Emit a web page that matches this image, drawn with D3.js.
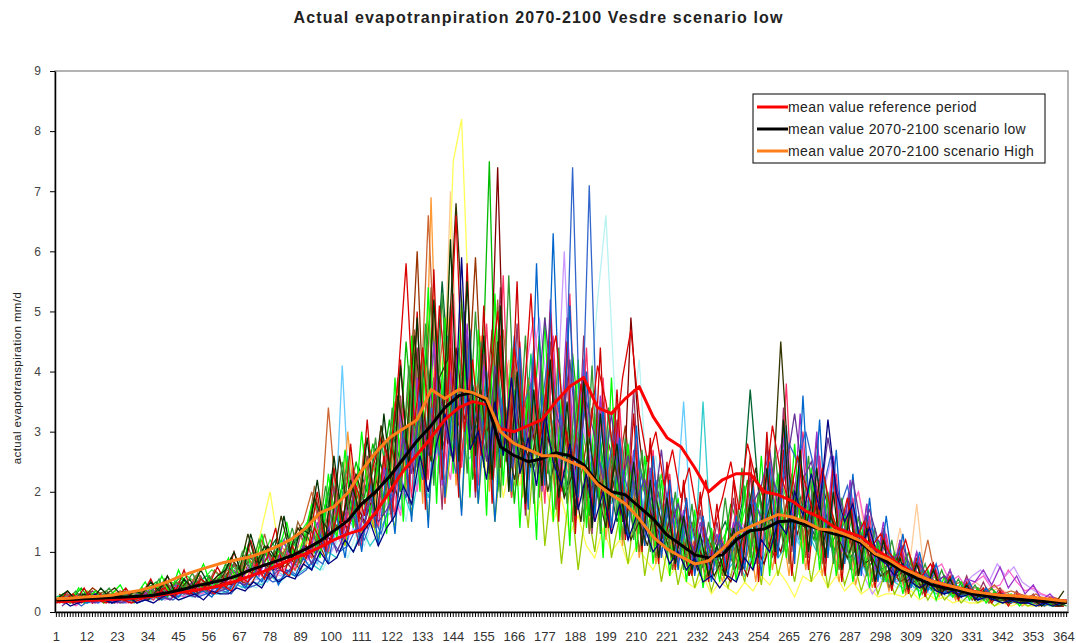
<!DOCTYPE html>
<html>
<head>
<meta charset="utf-8">
<script src="https://cdn.jsdelivr.net/npm/d3@7"></script>
<style>
  body { margin: 0; background: #fff; }
  svg { display: block; font-family: "Liberation Sans", Arial, sans-serif; }
</style>
</head>
<body>
<div id="chart"></div>
<script>
const chartTitle = "Actual evapotranpiration 2070-2100 Vesdre scenario low";
const yTitle = "actual evapotranspiration mm/d";

// category axis: day of year
const dayCategories = d3.range(1, 366);
const xTickLabels = [1,12,23,34,45,56,67,78,89,100,111,122,133,144,155,166,177,188,199,210,
  221,232,243,254,265,276,287,298,309,320,331,342,353,364];
const yTicks = [0,1,2,3,4,5,6,7,8,9];

// mean curves (read every 5 days)
const meanDays = [1,6,11,16,21,26,31,36,41,46,51,56,61,66,71,76,81,86,91,96,
  101,106,111,116,121,126,131,136,141,146,151,156,161,166,171,176,181,186,191,196,
  201,206,211,216,221,226,231,236,241,246,251,256,261,266,271,276,281,286,291,296,
  301,306,311,316,321,326,331,336,341,346,351,356,361,365];
const meanReference = [0.17,0.18,0.19,0.2,0.21,0.22,0.24,0.26,0.3,0.33,
  0.36,0.4,0.45,0.52,0.6,0.68,0.78,0.88,0.97,1.08,
  1.2,1.3,1.37,1.65,2.0,2.35,2.62,2.9,3.2,3.4,
  3.5,3.45,3.05,3.0,3.1,3.2,3.5,3.75,3.9,3.4,
  3.3,3.55,3.75,3.25,2.9,2.75,2.4,2.0,2.2,2.3,
  2.3,2.0,1.95,1.85,1.68,1.58,1.42,1.33,1.25,1.05,
  0.9,0.75,0.62,0.52,0.45,0.4,0.35,0.3,0.28,0.25,
  0.22,0.2,0.2,0.18];
const meanLow = [0.2,0.21,0.22,0.23,0.24,0.25,0.26,0.28,0.32,0.37,
  0.43,0.48,0.53,0.6,0.7,0.78,0.86,0.94,1.05,1.18,
  1.35,1.52,1.8,2.0,2.25,2.55,2.85,3.1,3.4,3.6,
  3.65,3.5,2.75,2.6,2.5,2.55,2.65,2.6,2.45,2.15,
  2.0,1.95,1.75,1.55,1.28,1.12,0.95,0.9,0.95,1.2,
  1.35,1.38,1.5,1.52,1.45,1.38,1.3,1.25,1.15,0.95,
  0.82,0.68,0.56,0.46,0.4,0.36,0.3,0.27,0.24,0.22,
  0.2,0.18,0.17,0.16];
const meanHigh = [0.22,0.23,0.25,0.26,0.28,0.32,0.36,0.42,0.5,0.6,
  0.68,0.75,0.82,0.87,0.92,1.0,1.1,1.22,1.4,1.65,
  1.75,1.98,2.35,2.65,2.9,3.05,3.2,3.7,3.55,3.7,
  3.65,3.55,3.0,2.8,2.7,2.6,2.6,2.5,2.4,2.12,
  1.95,1.8,1.55,1.25,1.05,0.92,0.8,0.85,1.05,1.3,
  1.42,1.52,1.62,1.58,1.5,1.38,1.36,1.28,1.18,0.97,
  0.87,0.72,0.62,0.52,0.46,0.4,0.34,0.31,0.28,0.27,
  0.25,0.23,0.2,0.18];

// individual years (estimated every 3 days; some years read one or two days later)
const runDays = [1,4,7,10,13,16,19,22,25,28,31,34,37,40,43,46,49,52,55,58,
  61,64,67,70,73,76,79,82,85,88,91,94,97,100,103,106,109,112,115,118,
  121,124,127,130,133,136,139,142,145,148,151,154,157,160,163,166,169,172,175,178,
  181,184,187,190,193,196,199,202,205,208,211,214,217,220,223,226,229,232,235,238,
  241,244,247,250,253,256,259,262,265,268,271,274,277,280,283,286,289,292,295,298,
  301,304,307,310,313,316,319,322,325,328,331,334,337,340,343,346,349,352,355,358,361,364];
const runDayShift = [0,1,2];

const run01 = [0.2,0.3,0.25,0.4,0.2,0.3,0.35,0.2,0.3,0.25, 0.3,0.4,0.5,0.3,0.45,0.6,0.4,0.5,0.35,0.55,
  0.5,0.7,0.6,0.9,0.7,1.1,0.8,0.9,1.2,0.8, 1.3,1.0,1.6,2.2,1.5,1.8,2.5,1.9,2.8,2.2,
  3.2,2.1,4.5,2.8,3.6,5.2,2.4,4.1,3.0,4.8, 2.2,3.1,7.5,2.0,4.2,1.8,3.5,2.6,4.6,2.3,
  3.4,1.9,4.3,2.8,1.6,3.2,2.1,2.7,1.5,2.4, 1.8,2.6,1.2,1.6,0.9,1.4,0.7,1.1,0.8,1.3,
  1.0,1.8,1.4,2.2,1.2,1.6,2.0,1.3,1.8,1.5, 1.6,1.2,1.9,1.1,1.4,0.9,1.2,0.8,1.0,0.7,
  0.8,0.6,0.9,0.5,0.6,0.4,0.5,0.4,0.35,0.3, 0.3,0.25,0.3,0.2,0.25,0.2,0.2,0.15,0.2,0.15,0.2,0.15];
const run02 = [0.15,0.2,0.3,0.15,0.25,0.2,0.15,0.3,0.2,0.15, 0.2,0.25,0.3,0.4,0.25,0.35,0.3,0.5,0.4,0.3,
  0.45,0.35,0.6,0.5,0.8,0.55,0.9,0.7,0.6,1.0, 0.9,1.4,1.1,1.2,1.8,1.3,2.1,1.6,2.4,2.9,
  2.5,3.8,5.8,3.1,4.4,2.6,5.1,3.5,6.6,3.0, 4.2,2.6,3.8,5.0,2.9,4.4,3.2,5.3,2.8,3.9,
  4.6,3.1,2.4,3.8,2.9,4.1,3.5,2.6,3.9,4.7, 3.3,2.5,3.0,2.1,2.7,1.9,2.4,1.6,2.2,1.4,
  1.9,2.5,1.7,2.8,2.2,1.9,3.1,2.3,1.8,2.6, 2.1,1.6,2.4,1.7,1.3,1.9,1.2,1.5,1.1,1.3,
  1.0,0.8,1.2,0.7,0.6,0.8,0.5,0.45,0.4,0.35, 0.3,0.35,0.25,0.3,0.2,0.25,0.2,0.2,0.15,0.2,0.15,0.15];
const run03 = [0.3,0.2,0.15,0.25,0.4,0.3,0.2,0.25,0.35,0.2, 0.25,0.35,0.2,0.3,0.4,0.3,0.45,0.35,0.6,0.4,
  0.4,0.6,0.5,0.45,0.7,0.6,1.0,0.75,0.85,0.7, 1.0,1.2,0.9,1.5,1.3,2.0,1.6,1.4,2.2,1.9,
  2.7,2.0,3.3,6.0,2.5,3.7,2.9,4.9,2.2,3.4, 5.9,3.0,4.7,2.4,3.6,2.1,3.0,4.1,2.5,3.3,
  2.2,3.0,1.8,2.5,3.4,1.9,2.8,2.2,3.1,1.7, 2.3,1.5,2.0,1.2,1.7,1.0,1.5,0.8,1.2,0.9,
  1.1,0.8,1.4,1.0,1.7,1.2,0.9,1.5,2.3,1.6, 1.3,1.8,1.0,1.5,0.8,1.2,0.9,0.7,1.1,0.6,
  0.7,0.5,0.6,0.8,0.45,0.5,0.35,0.4,0.3,0.35, 0.25,0.3,0.2,0.25,0.2,0.15,0.2,0.2,0.15,0.2,0.1,0.15];
const run04 = [0.2,0.15,0.2,0.3,0.25,0.2,0.3,0.4,0.25,0.2, 0.3,0.2,0.35,0.5,0.3,0.4,0.55,0.3,0.45,0.5,
  0.6,0.9,0.7,1.3,0.8,1.1,0.9,1.6,1.0,1.4, 1.2,1.9,1.5,1.3,2.6,1.7,2.3,1.8,2.0,3.1,
  2.4,3.6,2.8,4.6,3.2,2.5,3.9,4.2,6.8,4.3, 2.8,3.7,2.3,4.5,3.0,2.2,2.9,2.4,3.4,2.0,
  2.6,1.9,2.3,1.5,2.9,2.0,1.4,2.5,1.8,1.2, 1.5,1.1,1.9,1.3,0.9,1.6,1.2,0.7,1.0,0.6,
  0.9,1.3,1.0,1.6,2.4,1.4,1.9,4.5,2.3,1.5, 1.4,2.0,1.1,1.6,1.2,0.9,1.3,0.8,0.9,0.6,
  0.7,0.9,0.5,0.6,0.4,0.55,0.35,0.4,0.3,0.3, 0.35,0.25,0.3,0.2,0.2,0.25,0.15,0.2,0.15,0.2,0.15,0.35];
const run05 = [0.1,0.2,0.15,0.2,0.15,0.25,0.2,0.15,0.2,0.3, 0.2,0.3,0.25,0.2,0.35,0.3,0.25,0.4,0.3,0.35,
  0.4,0.5,0.45,0.6,0.9,0.55,0.7,0.65,0.8,1.1, 0.8,1.1,1.4,1.0,1.3,1.6,1.2,1.9,1.5,1.7,
  2.0,2.9,2.3,3.5,2.6,4.0,3.1,2.5,3.7,2.9, 3.4,2.5,4.1,3.0,2.4,3.6,2.7,3.2,4.9,3.5,
  3.0,4.2,2.6,3.5,2.9,2.2,3.3,2.0,2.6,1.9, 2.2,1.6,2.7,1.4,1.8,1.3,1.0,1.5,0.9,1.2,
  1.0,1.5,1.3,1.8,2.1,2.7,1.7,2.4,3.3,2.2, 2.5,1.8,2.9,2.1,1.6,2.2,1.4,1.7,1.2,1.0,
  0.9,1.1,0.7,0.8,0.6,0.5,0.6,0.4,0.35,0.4, 0.3,0.35,0.25,0.3,0.2,0.25,0.2,0.15,0.2,0.15,0.2,0.15];
const run06 = [0.15,0.25,0.2,0.1,0.2,0.15,0.25,0.2,0.15,0.2, 0.25,0.2,0.3,0.25,0.2,0.3,0.35,0.25,0.3,0.4,
  0.35,0.3,0.5,0.4,0.45,0.6,0.5,0.55,0.7,0.6, 0.7,0.9,0.8,1.2,1.0,1.1,1.4,1.2,1.6,1.3,
  1.8,2.4,1.9,2.9,2.2,3.4,2.6,3.0,2.3,3.6, 2.9,3.3,2.4,3.9,2.8,4.6,3.4,3.8,3.1,4.2,
  3.6,2.9,7.4,2.4,7.1,2.6,2.2,3.0,2.4,1.8, 2.5,1.7,2.2,1.4,1.9,1.1,1.6,1.0,1.3,0.8,
  1.1,0.9,1.5,1.2,1.8,1.4,2.2,1.9,2.8,2.5, 3.0,2.4,2.0,2.6,1.7,2.1,1.5,1.2,1.4,0.9,
  1.0,0.7,0.8,0.6,0.7,0.5,0.45,0.5,0.4,0.3, 0.35,0.3,0.25,0.3,0.2,0.25,0.2,0.2,0.15,0.2,0.15,0.2];
const run07 = [0.2,0.1,0.15,0.2,0.3,0.2,0.15,0.2,0.25,0.15, 0.2,0.15,0.25,0.3,0.2,0.25,0.3,0.2,0.35,0.3,
  0.3,0.4,0.35,0.5,0.4,0.65,0.5,0.6,0.55,0.8, 0.7,1.0,0.8,0.9,1.2,1.0,1.3,1.5,1.1,1.4,
  1.6,2.1,1.8,2.6,2.0,2.8,3.3,2.5,5.9,2.7, 3.0,2.2,3.5,2.6,3.9,2.3,2.9,2.1,3.3,2.5,
  2.1,2.8,1.7,2.3,1.5,2.0,1.3,1.8,1.2,1.6, 1.4,1.0,1.2,0.8,1.0,0.7,0.9,0.5,0.6,0.4,
  0.6,0.5,0.9,0.7,1.2,1.0,1.5,1.3,2.0,1.6, 2.3,1.7,3.2,2.0,1.5,1.8,1.1,1.4,0.9,0.8,
  0.6,0.8,0.5,0.4,0.5,0.35,0.3,0.35,0.25,0.3, 0.2,0.25,0.2,0.15,0.2,0.15,0.15,0.1,0.15,0.1,0.15,0.1];
const run08 = [0.25,0.3,0.2,0.25,0.2,0.3,0.25,0.35,0.2,0.3, 0.35,0.3,0.45,0.4,0.5,0.35,0.6,0.45,0.5,0.65,
  0.7,0.6,0.9,0.8,1.2,0.9,0.8,1.1,1.3,1.5, 2.0,1.4,3.4,1.8,1.6,2.4,1.9,2.7,2.1,2.6,
  3.5,2.8,4.3,3.2,6.6,3.6,4.9,3.0,4.0,3.4, 3.8,3.2,2.7,4.7,3.3,2.6,3.9,3.0,2.4,3.6,
  3.2,2.5,2.9,2.1,2.6,3.5,2.0,2.4,1.7,2.2, 2.0,1.4,1.8,1.1,1.5,0.9,1.2,0.8,1.0,0.7,
  0.9,1.1,0.8,1.3,1.0,1.5,1.2,1.8,1.4,2.0, 1.7,1.4,1.9,1.2,1.5,1.0,1.3,0.9,1.1,0.8,
  0.9,0.7,0.8,0.6,1.2,0.5,0.6,0.45,0.5,0.4, 0.4,0.35,0.45,0.3,0.35,0.3,0.25,0.3,0.2,0.25,0.2,0.2];
const run09 = [0.2,0.3,0.2,0.15,0.25,0.2,0.3,0.2,0.15,0.2, 0.25,0.2,0.3,0.25,0.35,0.3,0.25,0.3,0.35,0.3,
  0.4,0.5,0.4,0.6,0.55,0.5,0.7,0.6,0.75,0.9, 1.0,0.8,1.3,1.1,4.1,1.5,1.2,1.7,1.4,2.0,
  2.2,1.7,2.6,2.1,3.0,2.4,3.5,2.7,3.1,2.5, 2.7,3.4,2.2,2.9,2.4,3.2,2.0,2.6,3.8,2.8,
  3.5,2.7,3.1,2.4,2.8,2.2,3.0,2.5,1.9,2.3, 1.7,2.4,1.4,1.9,1.5,3.5,1.2,1.6,1.0,0.9,
  0.8,1.0,0.7,1.2,0.9,1.4,1.1,1.6,1.3,1.1, 1.4,1.1,1.6,0.9,1.2,0.8,1.0,0.6,0.7,0.5,
  0.6,0.5,0.4,0.5,0.35,0.4,0.3,0.35,0.3,0.25, 0.25,0.2,0.25,0.2,0.15,0.2,0.15,0.2,0.15,0.1,0.15,0.1];
const run10 = [0.15,0.2,0.25,0.2,0.15,0.2,0.2,0.25,0.2,0.15, 0.2,0.25,0.2,0.3,0.25,0.2,0.3,0.25,0.3,0.35,
  0.35,0.4,0.5,0.45,0.4,0.55,0.6,0.5,0.65,0.7, 0.8,0.9,0.7,1.0,1.2,0.9,1.3,1.1,1.5,1.2,
  1.7,2.2,1.5,2.5,1.9,2.8,2.3,3.2,2.6,3.9, 2.4,3.1,2.6,2.1,2.8,3.5,2.5,3.0,2.2,2.7,
  2.3,2.9,2.0,2.6,3.4,5.2,6.6,3.8,2.4,2.9, 4.2,2.0,2.6,1.5,1.8,1.1,1.4,0.9,1.1,0.8,
  0.7,0.9,0.6,1.0,0.8,1.2,0.9,1.3,1.0,1.2, 1.0,1.3,0.8,1.1,0.7,0.9,0.6,0.8,0.5,0.6,
  0.5,0.4,0.45,0.35,0.4,0.3,0.35,0.25,0.3,0.2, 0.2,0.25,0.2,0.15,0.2,0.15,0.1,0.15,0.1,0.15,0.1,0.1];
const run11 = [0.2,0.25,0.2,0.3,0.2,0.25,0.2,0.15,0.2,0.25, 0.3,0.25,0.35,0.3,0.4,0.3,0.35,0.45,0.4,0.5,
  0.55,0.7,0.6,0.8,1.4,2.0,1.1,0.9,1.0,1.2, 1.1,1.5,1.3,1.8,1.4,2.2,1.7,2.0,1.8,2.5,
  2.3,3.1,2.6,3.7,2.9,4.6,3.8,7.5,8.2,4.5, 3.4,2.3,3.0,1.9,2.6,2.1,2.9,1.6,2.2,1.5,
  1.9,1.3,1.6,1.1,0.9,1.4,1.0,1.2,0.8,1.1, 0.9,0.7,1.0,0.6,0.8,0.5,0.4,0.6,0.3,0.5,
  0.4,0.3,0.5,0.35,0.6,0.45,0.7,0.5,0.25,0.6, 0.5,0.7,0.4,0.6,0.35,0.5,0.3,0.4,0.25,0.3,
  0.3,0.25,0.35,0.2,0.3,0.2,0.25,0.15,0.2,0.15, 0.15,0.2,0.1,0.15,0.1,0.15,0.1,0.1,0.15,0.1,0.1,0.1];
const run12 = [0.15,0.2,0.1,0.2,0.15,0.2,0.25,0.2,0.15,0.2, 0.2,0.3,0.25,0.35,0.3,0.25,0.4,0.3,0.35,0.4,
  0.45,0.5,0.6,0.55,0.7,0.6,0.8,0.7,0.9,0.75, 0.9,1.2,1.0,1.4,1.1,1.6,1.3,1.9,1.5,1.8,
  2.1,1.6,2.7,2.0,3.2,2.4,2.9,2.2,3.6,2.8, 3.1,2.5,3.6,2.8,3.3,2.4,4.0,4.9,3.5,2.9,
  3.3,2.6,3.8,2.9,2.3,2.7,2.1,2.5,1.8,2.2, 1.6,2.0,1.3,1.7,1.1,1.4,0.9,1.2,0.8,1.0,
  1.2,0.9,1.5,1.1,1.9,1.5,2.5,2.9,1.8,2.3, 1.9,2.6,1.6,2.2,1.4,1.7,2.0,1.3,1.0,1.2,
  0.8,1.0,0.6,0.9,0.5,0.7,0.8,0.5,0.6,0.4, 0.5,0.6,0.4,0.45,0.7,0.5,0.35,0.4,0.3,0.25,0.2,0.2];
const run13 = [0.2,0.15,0.2,0.25,0.2,0.15,0.2,0.3,0.2,0.15, 0.2,0.25,0.3,0.2,0.25,0.35,0.3,0.25,0.3,0.35,
  0.4,0.35,0.5,0.45,0.55,0.5,0.65,0.6,0.7,0.8, 0.9,0.8,1.1,1.0,1.3,1.2,1.5,1.3,1.7,1.6,
  1.9,2.4,2.0,2.8,2.3,3.1,2.6,3.3,2.8,3.5, 3.2,2.7,3.6,2.9,3.4,2.6,3.1,3.9,4.9,3.7,
  3.1,6.0,2.7,3.4,2.5,3.0,2.3,2.7,2.1,2.5, 2.0,1.6,1.8,1.3,1.5,1.0,1.2,0.8,0.9,0.7,
  0.8,0.6,0.9,0.7,1.0,0.8,1.2,1.0,1.4,1.2, 1.6,1.3,1.9,2.5,1.5,1.2,0.9,0.6,0.3,0.5,
  0.6,0.5,0.7,0.4,0.5,0.4,0.35,0.5,0.4,0.45, 0.6,0.7,0.5,0.8,0.6,0.75,0.5,0.4,0.3,0.25,0.2,0.2];
const run14 = [0.25,0.2,0.3,0.2,0.25,0.3,0.2,0.25,0.3,0.25, 0.3,0.35,0.3,0.45,0.4,0.35,0.5,0.45,0.55,0.5,
  0.6,0.8,0.7,0.9,0.8,1.0,1.2,0.9,1.1,1.3, 1.4,1.2,1.8,1.5,2.1,1.7,2.4,2.0,2.7,2.3,
  3.0,2.5,3.7,2.9,4.3,3.3,5.5,3.6,3.1,4.1, 3.6,2.9,3.3,2.5,3.0,2.7,3.5,2.4,2.9,2.2,
  2.6,2.1,2.9,1.9,2.4,1.7,2.2,1.5,2.0,1.4, 1.7,1.2,1.5,1.0,1.3,0.8,1.1,0.7,0.9,1.2,
  1.5,1.1,1.8,3.7,2.0,1.4,1.7,1.2,1.5,1.9, 1.5,1.2,1.7,1.0,1.3,0.9,1.1,0.7,0.9,0.6,
  0.7,0.5,0.6,0.4,0.5,0.35,0.4,0.3,0.35,0.3, 0.25,0.3,0.2,0.25,0.2,0.2,0.15,0.2,0.15,0.15,0.1,0.15];
const run15 = [0.2,0.25,0.15,0.2,0.3,0.25,0.2,0.15,0.25,0.2, 0.25,0.2,0.3,0.35,0.25,0.4,0.3,0.35,0.45,0.4,
  0.5,0.45,0.55,0.7,0.6,0.8,0.7,0.75,0.9,1.0, 1.1,0.9,1.3,1.2,1.5,1.4,1.8,1.5,1.9,2.1,
  2.4,1.9,2.9,2.3,3.4,2.6,3.9,2.8,4.4,3.2, 3.7,2.8,3.1,7.4,2.5,3.6,2.7,3.2,2.3,2.9,
  2.5,3.2,2.2,2.8,1.9,2.4,1.6,2.2,1.5,4.9, 2.9,1.8,1.4,1.2,1.7,1.3,0.6,1.1,0.8,1.0,
  0.7,0.5,0.9,0.6,1.1,0.8,1.3,1.0,1.6,1.3, 1.8,1.4,2.1,1.6,1.2,1.5,1.0,1.2,0.8,0.9,
  0.8,0.6,0.7,0.5,0.6,0.45,0.4,0.35,0.3,0.35, 0.3,0.25,0.3,0.2,0.25,0.2,0.15,0.2,0.15,0.15,0.1,0.1];
const run16 = [0.2,0.15,0.2,0.15,0.2,0.25,0.15,0.2,0.2,0.15, 0.2,0.25,0.2,0.3,0.25,0.3,0.25,0.35,0.3,0.3,
  0.35,0.45,0.4,0.5,0.45,0.6,0.5,0.65,0.6,0.7, 0.8,0.7,1.0,0.9,1.2,1.0,1.4,1.1,1.3,1.6,
  1.7,2.0,1.6,2.4,1.9,2.7,2.2,3.0,2.5,3.3, 2.8,3.4,2.5,3.0,2.7,3.3,2.4,2.9,2.6,3.2,
  2.7,2.2,3.0,2.4,2.0,2.6,1.8,2.3,1.6,2.0, 1.5,1.8,1.2,1.4,1.0,1.2,0.9,3.5,1.1,0.8,
  0.7,0.9,0.6,1.0,0.8,1.2,0.9,1.1,1.4,1.0, 1.2,0.9,1.3,0.8,1.0,0.7,0.8,0.6,0.7,0.5,
  0.5,0.4,0.45,0.35,0.4,0.3,0.35,0.25,0.3,0.25, 0.2,0.25,0.2,0.15,0.2,0.15,0.2,0.1,0.15,0.1,0.15,0.1];
const run17 = [0.2,0.25,0.3,0.2,0.35,0.25,0.3,0.2,0.25,0.3, 0.35,0.45,0.4,0.5,0.45,0.6,0.5,0.55,0.7,0.6,
  0.8,0.7,0.9,1.0,0.85,1.2,1.0,1.3,1.1,1.4, 1.6,1.3,2.0,1.7,2.3,1.9,1.5,2.2,2.6,2.1,
  3.1,2.6,3.4,2.5,3.8,4.7,3.2,2.7,3.9,3.0, 3.5,2.9,3.9,2.6,3.2,2.4,3.7,2.8,3.3,2.5,
  3.0,2.6,3.3,2.7,2.2,2.9,2.0,2.4,1.9,2.7, 2.1,1.7,2.3,1.4,1.8,1.1,1.5,1.0,1.3,1.1,
  1.4,1.1,1.7,1.3,2.0,1.6,2.3,1.9,1.5,1.8, 1.6,1.2,1.9,1.4,1.1,1.6,0.9,1.2,0.8,0.9,
  0.7,0.9,0.6,0.8,0.5,0.6,0.4,0.5,0.35,0.3, 0.25,0.3,0.2,0.25,0.2,0.15,0.2,0.15,0.15,0.1,0.15,0.1];
const run18 = [0.15,0.2,0.25,0.2,0.15,0.2,0.3,0.25,0.2,0.25, 0.3,0.25,0.35,0.3,0.4,0.35,0.45,0.4,0.5,0.45,
  0.55,0.6,0.7,0.65,0.8,0.75,0.9,0.85,1.0,1.1, 1.2,1.0,1.4,1.3,1.6,1.5,1.8,1.6,2.0,1.9,
  2.3,2.7,2.2,3.0,2.6,3.5,2.9,7.0,3.3,2.8, 3.1,2.6,3.5,2.8,4.2,3.0,2.7,3.3,2.5,3.0,
  2.6,2.2,2.8,2.0,2.5,1.8,2.3,1.6,2.1,1.5, 1.8,1.4,1.6,1.2,1.4,1.0,1.2,0.8,1.0,0.9,
  0.8,1.0,0.7,1.1,0.9,1.3,1.0,1.5,1.2,1.4, 1.1,1.4,1.0,1.2,0.9,1.6,2.0,1.1,0.8,1.0,
  0.7,1.4,0.6,1.8,0.5,0.7,0.45,0.6,0.4,0.35, 0.5,0.4,0.35,0.4,0.3,0.25,0.3,0.2,0.25,0.2,0.15,0.2];
const run19 = [0.3,0.15,0.4,0.2,0.35,0.15,0.3,0.45,0.2,0.3, 0.5,0.25,0.6,0.3,0.7,0.35,0.5,0.8,0.4,0.6,
  0.9,0.5,1.1,0.6,1.3,0.7,1.0,1.5,0.8,1.2, 1.8,0.9,2.3,1.2,2.7,1.4,3.0,1.6,2.5,1.3,
  3.9,1.5,4.6,2.0,5.4,1.8,4.9,2.3,5.2,1.9, 4.7,1.6,5.3,2.1,4.4,1.4,3.8,1.2,4.9,1.5,
  3.6,1.1,4.2,1.4,3.3,0.9,3.9,1.2,2.8,1.0, 2.6,0.8,2.2,0.6,1.9,0.5,1.7,0.4,1.4,0.5,
  1.6,0.5,2.1,0.7,2.6,0.6,2.3,0.9,2.8,0.8, 2.4,0.7,2.0,0.6,1.7,0.5,1.5,0.4,1.2,0.5,
  1.0,0.3,0.9,0.25,0.7,0.2,0.6,0.25,0.5,0.2, 0.4,0.15,0.35,0.2,0.3,0.1,0.25,0.15,0.2,0.1,0.15,0.1];
const run20 = [0.15,0.35,0.2,0.4,0.15,0.3,0.2,0.25,0.4,0.2, 0.3,0.55,0.25,0.6,0.35,0.7,0.3,0.55,0.45,0.75,
  0.5,1.0,0.6,1.2,0.7,0.9,1.4,0.6,1.1,0.8, 1.1,2.0,1.0,2.4,1.3,2.8,1.5,3.2,1.4,2.6,
  1.6,4.2,2.0,5.0,1.7,5.7,2.2,4.4,1.9,5.8, 2.0,5.1,1.8,4.6,2.3,5.5,1.7,4.2,2.1,5.0,
  1.5,4.5,1.3,3.9,1.6,4.4,1.4,3.7,1.2,3.3, 1.0,2.9,0.8,2.5,0.7,2.2,0.6,2.0,0.5,1.8,
  0.6,2.2,0.7,2.6,0.5,3.0,0.8,2.7,0.6,2.4, 0.7,2.1,0.6,2.5,0.5,1.9,0.6,1.6,0.4,1.3,
  0.35,1.1,0.3,0.9,0.25,0.8,0.3,0.6,0.2,0.5, 0.2,0.4,0.15,0.35,0.1,0.3,0.15,0.25,0.1,0.2,0.1,0.15];
const run21 = [0.25,0.2,0.35,0.15,0.3,0.25,0.4,0.2,0.3,0.15, 0.4,0.3,0.55,0.25,0.5,0.4,0.65,0.35,0.6,0.45,
  0.8,0.55,1.0,0.7,1.2,0.65,1.1,0.9,1.4,0.8, 1.5,1.1,2.1,1.3,2.5,1.5,2.0,1.8,2.9,1.6,
  3.4,2.0,4.1,2.4,4.8,2.1,5.3,2.6,4.4,2.3, 5.0,2.4,4.3,1.9,5.6,2.2,4.6,1.8,4.0,2.0,
  4.4,1.8,3.7,1.5,4.1,1.3,3.4,1.6,2.9,1.2, 2.7,1.0,2.3,0.9,2.0,0.7,1.8,0.6,1.5,0.7,
  1.9,0.7,2.4,0.9,2.0,1.1,2.7,1.0,2.2,1.2, 2.6,1.0,2.2,0.8,1.9,0.7,1.6,0.6,1.4,0.5,
  1.2,0.5,1.0,0.4,0.8,0.35,0.7,0.3,0.55,0.25, 0.45,0.2,0.4,0.2,0.3,0.15,0.25,0.2,0.2,0.15,0.15,0.1];
const run22 = [0.2,0.3,0.15,0.25,0.35,0.2,0.15,0.3,0.25,0.35, 0.25,0.5,0.3,0.45,0.25,0.55,0.35,0.6,0.3,0.5,
  0.45,0.8,0.5,0.95,0.6,1.1,0.55,0.9,0.7,1.3, 0.9,1.7,1.0,2.1,1.2,1.9,1.1,2.6,1.4,2.3,
  1.5,3.6,1.8,4.4,2.1,3.9,1.7,5.1,2.3,4.6, 1.9,4.3,2.4,5.4,2.0,4.8,1.6,4.1,2.2,4.5,
  1.7,3.9,1.5,4.6,1.3,3.5,1.8,3.2,1.4,3.7, 1.2,2.8,1.0,2.4,0.8,2.1,0.9,1.7,0.6,1.5,
  0.7,1.9,0.6,2.3,0.8,2.8,0.9,3.4,1.0,2.6, 0.9,2.9,0.8,2.4,0.7,2.0,0.6,1.8,0.5,1.4,
  0.4,1.2,0.35,1.0,0.3,0.8,0.3,0.7,0.25,0.6, 0.2,0.5,0.2,0.4,0.15,0.35,0.15,0.3,0.1,0.25,0.1,0.2];
const run23 = [0.3,0.25,0.2,0.35,0.25,0.3,0.2,0.35,0.3,0.2, 0.35,0.3,0.45,0.35,0.4,0.5,0.35,0.45,0.55,0.4,
  0.6,0.5,0.75,0.6,0.85,0.7,0.95,0.8,0.7,1.0, 0.9,1.4,1.0,1.7,1.1,1.9,1.3,1.6,1.2,2.0,
  1.4,2.9,1.6,3.3,1.5,3.7,1.8,3.1,1.7,3.9, 1.8,3.5,1.5,3.0,1.9,2.6,1.4,3.2,1.1,2.4,
  0.8,2.1,0.7,1.8,1.0,2.3,0.9,1.6,0.8,1.9, 0.6,1.5,0.5,1.3,0.45,1.1,0.4,0.9,0.35,0.8,
  0.4,1.0,0.5,1.3,0.45,1.5,0.6,1.2,0.5,1.4, 0.5,1.3,0.4,1.1,0.45,0.9,0.35,0.8,0.3,0.7,
  0.3,0.6,0.25,0.5,0.2,0.45,0.2,0.35,0.15,0.3, 0.15,0.25,0.1,0.2,0.15,0.2,0.1,0.15,0.1,0.15,0.1,0.1];
const run24 = [0.15,0.2,0.25,0.15,0.2,0.3,0.15,0.2,0.25,0.15, 0.2,0.3,0.2,0.35,0.25,0.4,0.3,0.35,0.25,0.45,
  0.35,0.55,0.4,0.65,0.5,0.8,0.45,0.7,0.6,0.9, 0.7,1.3,0.8,1.6,0.9,1.9,1.0,2.2,1.1,2.4,
  1.3,3.1,1.5,3.8,1.4,4.3,1.9,3.6,1.6,4.7, 1.8,4.0,1.5,3.6,2.0,4.4,1.7,5.8,2.1,6.3,
  2.4,5.1,1.9,4.0,1.6,3.4,1.4,2.9,1.2,3.1, 1.1,2.6,0.9,2.2,0.7,1.9,0.6,1.6,0.5,1.3,
  0.6,1.6,0.7,2.1,0.6,2.5,0.9,3.1,0.8,3.6, 1.1,3.2,0.9,2.7,0.8,2.3,0.6,1.9,0.5,1.6,
  0.5,1.3,0.4,1.0,0.35,0.8,0.3,0.6,0.25,0.5, 0.2,0.4,0.2,0.3,0.15,0.25,0.15,0.2,0.1,0.2,0.1,0.15];
const run25 = [0.2,0.15,0.25,0.2,0.3,0.2,0.25,0.35,0.2,0.25, 0.3,0.4,0.3,0.5,0.35,0.45,0.4,0.6,0.45,0.55,
  0.6,0.7,0.65,0.9,0.75,1.0,0.85,1.1,0.9,1.3, 1.1,1.9,1.2,2.3,1.3,3.0,1.5,2.6,1.4,2.9,
  1.7,3.8,2.0,4.5,1.8,6.9,2.3,5.0,2.1,4.2, 2.3,4.6,2.0,3.9,2.6,4.3,1.9,3.6,2.2,3.3,
  1.8,3.1,1.6,2.7,1.4,3.3,1.2,2.6,1.1,2.3, 0.9,2.0,0.8,1.7,0.7,1.4,0.6,1.2,0.5,1.0,
  0.5,1.2,0.6,1.5,0.5,1.8,0.7,1.6,0.6,2.0, 0.7,1.8,0.6,1.5,0.5,1.3,0.45,1.1,0.4,0.9,
  0.35,0.8,0.3,0.7,0.3,0.6,0.25,0.5,0.2,0.45, 0.2,0.35,0.15,0.3,0.15,0.25,0.1,0.2,0.1,0.15,0.1,0.1];
const run26 = [0.25,0.35,0.2,0.3,0.2,0.4,0.25,0.3,0.2,0.35, 0.3,0.5,0.35,0.6,0.3,0.55,0.4,0.7,0.45,0.6,
  0.7,1.0,0.6,1.3,0.8,1.1,0.9,1.6,0.85,1.4, 1.3,2.2,1.2,2.6,1.5,2.2,1.7,2.9,1.6,3.3,
  2.0,4.1,2.4,4.9,2.2,5.2,2.7,6.2,2.5,5.5, 2.6,4.6,2.2,5.1,2.0,4.0,1.8,3.7,2.1,4.2,
  1.9,3.5,1.6,3.9,1.4,3.3,1.7,2.8,1.3,2.5, 1.1,2.2,0.9,1.9,0.8,1.6,0.7,1.3,0.6,1.1,
  0.6,1.4,0.7,1.8,0.9,2.4,1.0,3.2,1.1,2.7, 1.0,2.4,0.9,2.0,0.7,1.7,0.6,1.4,0.5,1.2,
  0.45,0.9,0.4,0.8,0.35,0.7,0.3,0.55,0.25,0.45, 0.2,0.35,0.2,0.3,0.15,0.25,0.15,0.2,0.1,0.2,0.1,0.15];
const run27 = [0.15,0.25,0.2,0.3,0.15,0.25,0.2,0.15,0.3,0.2, 0.25,0.4,0.3,0.35,0.45,0.3,0.5,0.35,0.4,0.55,
  0.5,0.7,0.55,0.8,0.6,0.95,0.7,1.2,0.75,1.0, 0.9,1.5,1.0,1.8,1.2,2.2,1.3,1.9,1.5,2.4,
  1.8,3.3,2.0,3.9,2.3,4.5,2.1,4.0,2.6,4.8, 2.4,4.1,2.7,4.6,2.2,3.8,2.5,4.4,2.0,5.2,
  2.3,4.9,2.0,4.2,1.7,3.6,1.5,3.1,1.4,2.7, 1.2,2.4,1.0,2.0,0.9,1.7,0.8,1.5,0.7,1.3,
  0.8,1.5,0.9,1.9,1.1,2.3,1.3,2.9,1.2,3.3, 1.4,3.0,1.2,2.6,1.0,2.2,0.8,1.8,0.7,1.5,
  0.6,1.2,0.5,1.0,0.45,0.8,0.4,0.7,0.3,0.55, 0.5,0.7,0.45,0.75,0.4,0.6,0.3,0.45,0.2,0.3,0.15,0.2];
const run28 = [0.2,0.3,0.15,0.25,0.2,0.3,0.35,0.2,0.25,0.3, 0.3,0.45,0.3,0.55,0.35,0.5,0.4,0.65,0.4,0.7,
  0.55,0.9,0.6,1.1,0.7,1.3,0.75,1.0,0.9,1.5, 1.2,2.1,1.3,1.8,1.5,2.5,1.4,2.8,1.7,3.1,
  2.1,3.9,2.4,4.7,2.2,5.4,2.6,4.2,2.9,5.0, 2.5,4.4,2.2,5.2,2.6,4.1,2.3,3.8,1.9,4.3,
  1.7,3.6,1.5,3.2,1.3,2.8,1.4,3.4,1.2,2.6, 1.0,2.1,0.9,1.8,0.7,1.5,0.6,1.3,0.55,1.1,
  0.6,1.3,0.7,1.7,0.8,2.0,0.9,2.4,0.8,2.1, 0.9,2.2,0.8,1.9,0.7,1.6,0.6,1.3,0.5,1.1,
  0.4,0.9,0.35,0.8,0.3,0.6,0.3,0.5,0.25,0.4, 0.2,0.35,0.15,0.3,0.15,0.25,0.15,0.2,0.1,0.2,0.1,0.15];
const run29 = [0.2,0.15,0.3,0.2,0.25,0.15,0.2,0.3,0.15,0.25, 0.3,0.2,0.4,0.3,0.45,0.3,0.5,0.35,0.55,0.4,
  0.5,0.65,0.5,0.8,0.6,0.9,0.65,1.0,0.7,1.1, 0.9,1.6,1.0,1.9,1.2,2.3,1.1,2.0,1.4,2.7,
  1.6,3.4,1.9,4.0,2.2,4.6,1.8,5.3,2.4,4.1, 2.1,4.8,2.4,5.6,1.9,4.5,2.2,3.9,1.8,4.6,
  2.0,5.3,1.7,4.4,1.5,3.9,1.3,3.4,1.2,2.9, 1.1,2.7,0.9,2.3,0.8,1.9,0.7,1.6,0.6,1.4,
  0.7,1.8,0.8,2.2,0.9,2.7,1.1,3.8,1.0,3.0, 1.2,2.6,1.0,2.3,0.8,1.9,0.7,1.6,0.6,1.3,
  0.5,1.0,0.45,0.9,0.4,0.7,0.3,0.6,0.25,0.5, 0.2,0.4,0.2,0.35,0.15,0.3,0.15,0.25,0.1,0.2,0.1,0.15];
const run30 = [0.25,0.3,0.2,0.25,0.35,0.2,0.3,0.25,0.2,0.3, 0.35,0.3,0.45,0.4,0.35,0.55,0.45,0.5,0.6,0.5,
  0.65,0.8,0.7,0.95,0.8,1.1,0.9,1.2,1.0,1.3, 1.4,1.9,1.3,2.3,1.6,2.6,1.5,2.1,1.8,2.8,
  2.2,3.6,2.6,4.3,2.4,3.9,2.9,4.6,2.7,5.0, 2.9,4.5,2.5,4.1,2.8,3.7,2.3,4.3,2.0,3.8,
  2.2,3.6,1.9,3.1,1.7,3.4,1.5,2.8,1.3,2.4, 1.3,2.1,1.1,1.8,0.9,1.6,0.8,1.3,0.7,1.1,
  0.8,1.4,0.9,1.7,1.0,2.1,1.1,1.8,1.2,2.2, 1.3,2.0,1.1,1.7,0.9,1.4,0.8,1.2,0.6,1.0,
  0.5,0.8,0.45,0.7,0.4,0.6,0.35,0.5,0.3,0.4, 0.25,0.3,0.2,0.25,0.2,0.2,0.15,0.2,0.15,0.15,0.1,0.15];

// drawing order and colour of each year
const runs = [
  { values: run10, color: "#b8f2f2" }, { values: run18, color: "#ffcc99" },
  { values: run11, color: "#ffff55" }, { values: run13, color: "#cc99ff" },
  { values: run09, color: "#66ccff" }, { values: run16, color: "#33cccc" },
  { values: run25, color: "#ff9933" }, { values: run12, color: "#ff66cc" },
  { values: run17, color: "#33ee33" }, { values: run30, color: "#00cc66" },
  { values: run14, color: "#006633" }, { values: run23, color: "#99cc00" },
  { values: run01, color: "#00bb00" }, { values: run22, color: "#993366" },
  { values: run08, color: "#cc6633" }, { values: run28, color: "#996633" },
  { values: run03, color: "#993300" }, { values: run29, color: "#ff3366" },
  { values: run15, color: "#800000" }, { values: run27, color: "#9933cc" },
  { values: run19, color: "#00ff00" }, { values: run06, color: "#3366cc" },
  { values: run20, color: "#cc0000" }, { values: run24, color: "#0066cc" },
  { values: run04, color: "#333300" }, { values: run21, color: "#339933" },
  { values: run05, color: "#663399" }, { values: run02, color: "#dd0000" },
  { values: run26, color: "#003300" }, { values: run07, color: "#000080" }
];

const meanSeries = [
  { name: "mean value reference period", values: meanReference, color: "#ff0000" },
  { name: "mean value 2070-2100 scenario low", values: meanLow, color: "#000000" },
  { name: "mean value 2070-2100 scenario High", values: meanHigh, color: "#ff7f1a" }
];

const width = 1076, height = 643;
const plot = { left: 55, right: 1068, top: 71, bottom: 612 };

const svg = d3.select("#chart").append("svg")
  .attr("width", width).attr("height", height);

const x = d3.scaleBand().domain(dayCategories).range([plot.left, plot.right]);
const y = d3.scaleLinear().domain([0, 9]).range([plot.bottom, plot.top]);
const xc = d => x(d) + x.bandwidth() / 2;

svg.append("defs").append("clipPath").attr("id", "plotClip")
  .append("rect")
  .attr("x", plot.left).attr("y", plot.top)
  .attr("width", plot.right - plot.left).attr("height", plot.bottom - plot.top);

// plot area border
svg.append("rect")
  .attr("x", plot.left).attr("y", plot.top)
  .attr("width", plot.right - plot.left).attr("height", plot.bottom - plot.top)
  .attr("fill", "none").attr("stroke", "#9a9a9a").attr("stroke-width", 1.5);

const line = d3.line().x(d => xc(d[0])).y(d => y(d[1]));

// years (each read on its own 3-day grid)
svg.append("g").attr("clip-path", "url(#plotClip)")
  .selectAll("path")
  .data(runs)
  .join("path")
  .attr("fill", "none")
  .attr("stroke", d => d.color)
  .attr("stroke-width", 1.3)
  .attr("d", (d, k) => {
    const shift = runDayShift[k % runDayShift.length];
    const pts = d.values.map((v, i) => [runDays[i] + shift, v]).filter(p => p[0] <= 365);
    return line(pts);
  });

// means
svg.append("g").attr("clip-path", "url(#plotClip)")
  .selectAll("path")
  .data(meanSeries)
  .join("path")
  .attr("fill", "none")
  .attr("stroke", d => d.color)
  .attr("stroke-width", 3)
  .attr("stroke-linejoin", "round")
  .attr("d", s => line(s.values.map((v, i) => [meanDays[i], v])));

// y axis
const yAxis = svg.append("g")
  .attr("transform", `translate(${plot.left},0)`)
  .call(d3.axisLeft(y).tickValues(yTicks).tickSize(5).tickPadding(9).tickSizeOuter(0));
yAxis.select(".domain").attr("stroke", "#000").attr("stroke-width", 1.5);
yAxis.selectAll(".tick line").attr("stroke", "#000");
yAxis.selectAll("text").attr("font-size", 12).attr("fill", "#444")
  .attr("font-family", "Liberation Sans, Arial, sans-serif");

// x axis: tick comb at every day
const xComb = svg.append("g")
  .attr("transform", `translate(0,${plot.bottom})`)
  .call(d3.axisBottom(x).tickValues(dayCategories).tickSize(5).tickFormat("").tickSizeOuter(0));
xComb.select(".domain").attr("stroke", "#000").attr("stroke-width", 1.5);
xComb.selectAll(".tick line").attr("stroke", "#000").attr("stroke-width", 1);

const xLabels = svg.append("g")
  .attr("transform", `translate(0,${plot.bottom})`)
  .call(d3.axisBottom(x).tickValues(xTickLabels).tickSize(0).tickPadding(20));
xLabels.select(".domain").remove();
xLabels.selectAll("text").attr("font-size", 13).attr("fill", "#333")
  .attr("font-family", "Liberation Sans, Arial, sans-serif");

// titles
svg.append("text")
  .attr("x", 538).attr("y", 23)
  .attr("text-anchor", "middle")
  .attr("font-size", 16).attr("font-weight", "bold").attr("fill", "#222")
  .attr("textLength", 489)
  .text(chartTitle);

svg.append("text")
  .attr("transform", "translate(21,378) rotate(-90)")
  .attr("text-anchor", "middle")
  .attr("font-size", 11.5).attr("fill", "#222")
  .attr("letter-spacing", 0.4)
  .text(yTitle);

// legend
const legend = svg.append("g").attr("transform", "translate(753,94)");
legend.append("rect")
  .attr("width", 292).attr("height", 69)
  .attr("fill", "#fff").attr("stroke", "#000").attr("stroke-width", 1);
const item = legend.selectAll("g.item")
  .data(meanSeries)
  .join("g")
  .attr("class", "item")
  .attr("transform", (d, i) => `translate(0,${13 + i * 22})`);
item.append("line")
  .attr("x1", 4).attr("x2", 35)
  .attr("stroke", d => d.color).attr("stroke-width", 3);
item.append("text")
  .attr("x", 35).attr("dy", "0.35em")
  .attr("font-size", 14).attr("fill", "#222")
  .attr("letter-spacing", 0.4)
  .text(d => d.name);
</script>
</body>
</html>
